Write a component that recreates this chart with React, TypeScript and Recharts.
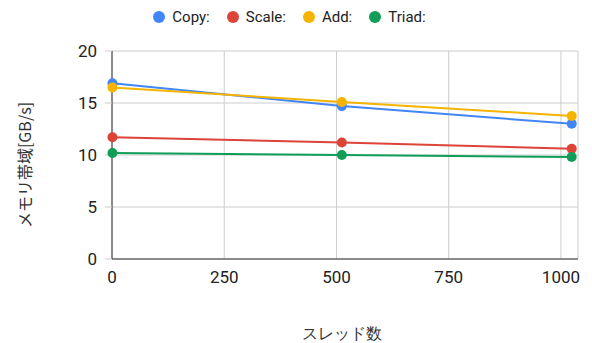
import React from 'react';
import { LineChart, Line, XAxis, YAxis, CartesianGrid, Legend, Label } from 'recharts';

// STREAM benchmark results by thread count
const threads = [1, 512, 1024];
const copy = [16.9, 14.7, 13.0];
const scale = [11.7, 11.2, 10.6];
const add = [16.5, 15.1, 13.75];
const triad = [10.2, 10.0, 9.8];

const xTicks = [0, 250, 500, 750, 1000];
const yTicks = [0, 5, 10, 15, 20];

const series = [
  { key: 'copy', name: 'Copy:', color: '#4285F4' },
  { key: 'scale', name: 'Scale:', color: '#DB4437' },
  { key: 'add', name: 'Add:', color: '#F4B400' },
  { key: 'triad', name: 'Triad:', color: '#0F9D58' },
];

const data = threads.map((t, i) => ({
  threads: t,
  copy: copy[i],
  scale: scale[i],
  add: add[i],
  triad: triad[i],
}));

const tickStyle = { fontFamily: 'Roboto', fontSize: 17, fill: '#222' };

const LegendRow = () => (
  <div
    style={{
      display: 'flex',
      justifyContent: 'center',
      alignItems: 'center',
      height: 18,
      fontFamily: 'Roboto',
      fontSize: 15,
      color: '#222',
      paddingLeft: 18,
    }}
  >
    {series.map((s) => (
      <div key={s.key} style={{ display: 'flex', alignItems: 'center', marginRight: 17 }}>
        <span
          style={{
            width: 12,
            height: 12,
            borderRadius: 6,
            background: s.color,
            marginRight: 7,
            display: 'inline-block',
          }}
        />
        <span>{s.name}</span>
      </div>
    ))}
  </div>
);

const YTitle = () => (
  <text
    x={24}
    y={165}
    transform="rotate(-90 24 165)"
    textAnchor="middle"
    dominantBaseline="central"
    style={{ fontFamily: '"Noto Sans CJK JP"', fontSize: 16, fill: '#333' }}
  >
    メモリ帯域[GB/s]
  </text>
);

const XTitle = () => (
  <text
    x={342}
    y={333}
    textAnchor="middle"
    dominantBaseline="central"
    style={{ fontFamily: 'serif', fontSize: 16, fill: '#333' }}
  >
    スレッド数
  </text>
);

export default function App() {
  return (
    <div style={{ position: 'absolute', left: 0, top: 0 }}>
      <LineChart
        width={592}
        height={343}
        data={data}
        margin={{ top: 33, right: 14, bottom: 54, left: 0 }}
      >
        <CartesianGrid stroke="#ccc" strokeWidth={1} />
        <XAxis
          dataKey="threads"
          type="number"
          domain={[0, 1038]}
          ticks={xTicks}
          tick={tickStyle}
          tickLine={false}
          tickSize={0}
          tickMargin={12}
          axisLine={{ stroke: '#333' }}
          height={30}
        >
          <Label content={XTitle} />
        </XAxis>
        <YAxis
          type="number"
          domain={[0, 20]}
          ticks={yTicks}
          tick={tickStyle}
          tickLine={{ stroke: '#ccc' }}
          tickSize={7}
          tickMargin={8}
          axisLine={{ stroke: '#333' }}
          width={112}
        >
          <Label content={YTitle} />
        </YAxis>
        <Legend verticalAlign="top" content={LegendRow} wrapperStyle={{ top: 8 }} />
        {series.map((s) => (
          <Line
            key={s.key}
            dataKey={s.key}
            name={s.name}
            stroke={s.color}
            strokeWidth={2}
            dot={{ r: 5, fill: s.color, stroke: s.color, strokeWidth: 0 }}
            isAnimationActive={false}
          />
        ))}
      </LineChart>
    </div>
  );
}
